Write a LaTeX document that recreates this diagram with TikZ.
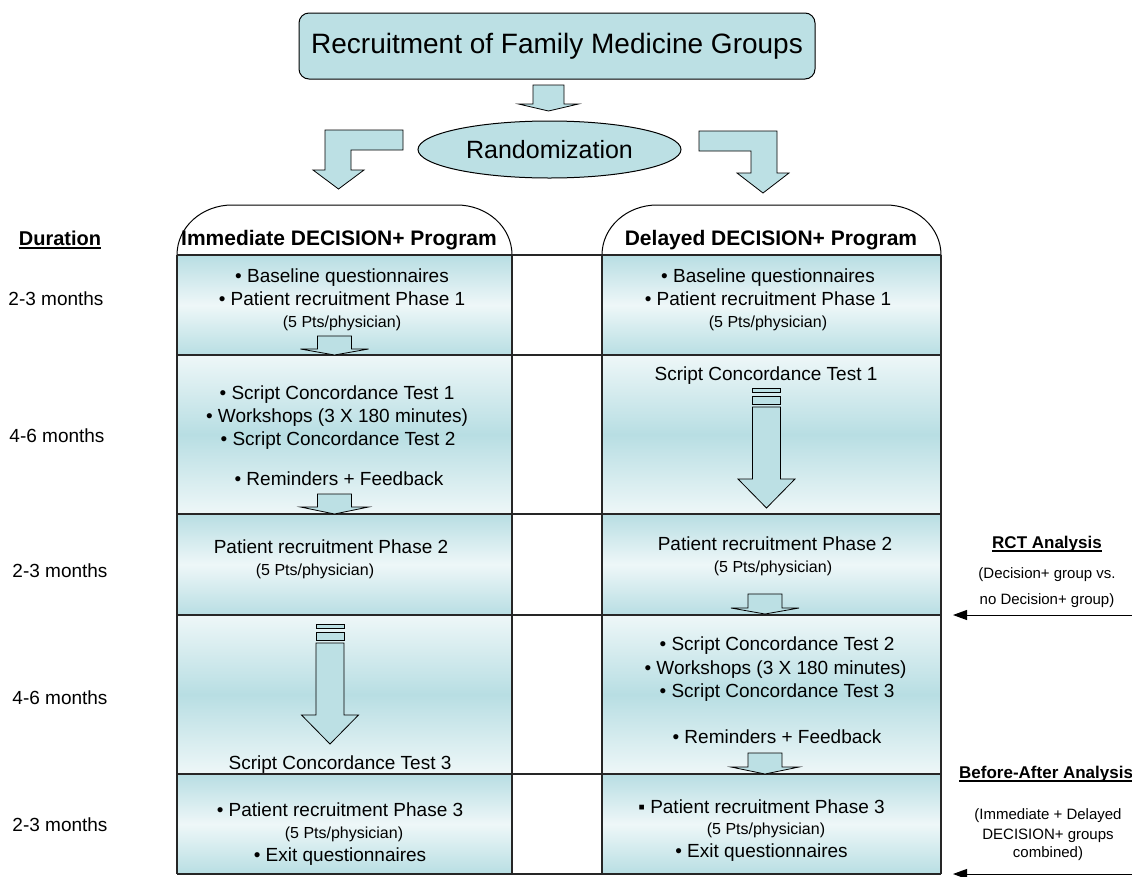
\documentclass[tikz,border=0pt]{standalone}
\usepackage{fontspec}
\setmainfont{Liberation Sans}
\usetikzlibrary{shapes.geometric,arrows.meta}
\definecolor{boxfill}{RGB}{188,224,228}
\definecolor{gdark}{RGB}{184,222,227}
\definecolor{glight}{RGB}{238,247,248}
\newcommand\fs[1]{\fontsize{#1}{#1}\selectfont}
% block arrow: cx, shaft top, head top, tip, shaft half width, head half width
\newcommand\blkarrow[6]{\draw[blockarrow] ({#1-#5},#2) -- ({#1+#5},#2) -- ({#1+#5},#3) -- ({#1+#6},#3) -- (#1,#4) -- ({#1-#6},#3) -- ({#1-#5},#3) -- cycle;}
% striped arrow: cx, top of first bar
\newcommand\stkarrow[2]{%
  \draw[blockarrow] ({#1-14},#2) rectangle ({#1+14},{#2+4});
  \draw[blockarrow] ({#1-14},{#2+8}) rectangle ({#1+14},{#2+16});
  \blkarrow{#1}{#2+19}{#2+91}{#2+120}{14}{28.5}}
\begin{document}
\begin{tikzpicture}[x=1pt,y=-1pt,
  t/.style={inner sep=0pt, anchor=base},
  body/.style={t, font=\fs{19}},
  sml/.style={t, font=\fs{16}},
  hdr/.style={t, font=\bfseries\fs{21}},
  months/.style={t, font=\fs{19}},
  lab/.style={t, font=\bfseries\fs{17}},
  note/.style={t, font=\fs{15}},
  blockarrow/.style={draw=black, fill=boxfill, line width=0.8pt, line join=miter},
  rule/.style={line width=2.2pt, draw=black!85},
  edge/.style={line width=1.3pt, draw=black!85},
  ul/.style={line width=1.2pt},
  pointer/.style={line width=1pt, -{Triangle[length=14pt,width=10pt]}},
]
\useasboundingbox (0,0) rectangle (1132,876);
\fill[white] (0,0) rectangle (1132,876);

% column fills
\foreach \xa/\xb in {177/512, 602/941}{
  \shade[top color=gdark,bottom color=gdark,middle color=glight] (\xa,255) rectangle (\xb,355);
  \shade[top color=glight,bottom color=glight,middle color=gdark] (\xa,355) rectangle (\xb,514);
  \shade[top color=gdark,bottom color=gdark,middle color=glight] (\xa,514) rectangle (\xb,615);
  \shade[top color=glight,bottom color=glight,middle color=gdark] (\xa,615) rectangle (\xb,774);
  \shade[top color=gdark,bottom color=gdark,middle color=glight] (\xa,774) rectangle (\xb,874);
}

% arched headers
\draw[line width=1pt] (177,255) .. controls (177,227) and (202,205) .. (232,205) -- (457,205) .. controls (487,205) and (512,227) .. (512,255);
\draw[line width=1pt] (602,255) .. controls (602,227) and (627,205) .. (657,205) -- (886,205) .. controls (916,205) and (941,227) .. (941,255);

% table rules
\foreach \y in {255,355,514,615,774,874} \draw[rule] (177,\y) -- (941,\y);
\foreach \x in {177,512,602,941} \draw[edge] (\x,255) -- (\x,874);

% top part
\node[draw=black, line width=1pt, fill=boxfill, rounded corners=10pt, minimum width=516pt, minimum height=66pt, inner sep=0pt, font=\fs{28}] (rec) at (557,46) {Recruitment of Family Medicine Groups};
\blkarrow{548.5}{85}{104}{111}{15.5}{30}
\node[ellipse, draw=black, line width=1pt, fill=boxfill, minimum width=263pt, minimum height=57pt, inner sep=0pt, font=\fs{25}] (rand) at (549.5,149.5) {Randomization};
\draw[blockarrow] (403,130) -- (325,130) -- (325,170) -- (313,170) -- (338.5,189) -- (364,170) -- (351,170) -- (351,150) -- (403,150) -- cycle;
\draw[blockarrow] (699,131) -- (777,131) -- (777,173) -- (789,173) -- (763,193) -- (737,173) -- (751,173) -- (751,151) -- (699,151) -- cycle;

% in-box arrows
\blkarrow{334.5}{336}{349}{355}{17}{34}
\blkarrow{334.5}{494}{507}{514}{17}{34}
\blkarrow{765}{594}{608}{614}{17}{34}
\blkarrow{765}{753}{767}{774}{17}{34}
\stkarrow{330}{624}
\stkarrow{766.5}{388}

% headers
\node[hdr] (hL) at (339,245.5) {Immediate DECISION+ Program};
\node[hdr] (hR) at (771,245.5) {Delayed DECISION+ Program};

% left column
\node[body] (l1a) at (342,282) {• Baseline questionnaires};
\node[body] (l1b) at (342,305) {• Patient recruitment Phase 1};
\node[sml] (l1c) at (342,327) {(5 Pts/physician)};
\node[body] (l2a) at (337,399) {• Script Concordance Test 1};
\node[body] (l2b) at (337,422) {• Workshops (3 X 180 minutes)};
\node[body] (l2c) at (338,445) {• Script Concordance Test 2};
\node[body] (l2d) at (339,485) {• Reminders + Feedback};
\node[body] (l3a) at (331,553) {Patient recruitment Phase 2};
\node[sml] (l3b) at (315,575) {(5 Pts/physician)};
\node[body] (l4a) at (340,769) {Script Concordance Test 3};
\node[body] (l5a) at (340,816) {• Patient recruitment Phase 3};
\node[sml] (l5b) at (344,838) {(5 Pts/physician)};
\node[body] (l5c) at (340,861) {• Exit questionnaires};

% right column
\node[body] (r1a) at (768,282) {• Baseline questionnaires};
\node[body] (r1b) at (768,305) {• Patient recruitment Phase 1};
\node[sml] (r1c) at (768,327) {(5 Pts/physician)};
\node[body] (r2a) at (766,380) {Script Concordance Test 1};
\node[body] (r3a) at (775,550) {Patient recruitment Phase 2};
\node[sml] (r3b) at (773,572) {(5 Pts/physician)};
\node[body] (r4a) at (777,650) {• Script Concordance Test 2};
\node[body] (r4b) at (775.5,674) {• Workshops (3 X 180 minutes)};
\node[body] (r4c) at (777,697) {• Script Concordance Test 3};
\node[body] (r4d) at (777,743) {• Reminders + Feedback};
\node[body] (r5a) at (761.5,813) {▪ Patient recruitment Phase 3};
\node[sml] (r5b) at (766,834) {(5 Pts/physician)};
\node[body] (r5c) at (761.5,857) {• Exit questionnaires};

% durations
\node[t, font=\bfseries\fs{20}] (dur) at (60,245) {Duration};
\draw[ul] ([yshift=-3pt]dur.base west) -- ([yshift=-3pt]dur.base east);
\node[months] (d1) at (56,305) {2-3 months};
\node[months] (d2) at (57,442) {4-6 months};
\node[months] (d3) at (60,577) {2-3 months};
\node[months] (d4) at (60,704) {4-6 months};
\node[months] (d5) at (60,831) {2-3 months};

% analyses
\node[lab] (rct) at (1047,548) {RCT Analysis};
\draw[ul] ([yshift=-3pt]rct.base west) -- ([yshift=-3pt]rct.base east);
\node[note] (rct1) at (1047,578.5) {(Decision+ group vs.};
\node[note] (rct2) at (1047,604.5) {no Decision+ group)};
\node[lab, anchor=base west] (ba) at (959,778) {Before-After Analysis};
\draw[ul] ([yshift=-3pt]ba.base west) -- ([yshift=-3pt]ba.base east);
\node[note] (ba1) at (1048,819.5) {(Immediate + Delayed};
\node[note] (ba2) at (1048,839.5) {DECISION+ groups};
\node[note] (ba3) at (1048,857.5) {combined)};

\coordinate (p1s) at (1132,615);
\coordinate (p1e) at (953,615);
\draw[pointer] (p1s) -- (p1e);
\coordinate (p2s) at (1132,874);
\coordinate (p2e) at (953,874);
\draw[pointer] (p2s) -- (p2e);
\end{tikzpicture}
\end{document}
